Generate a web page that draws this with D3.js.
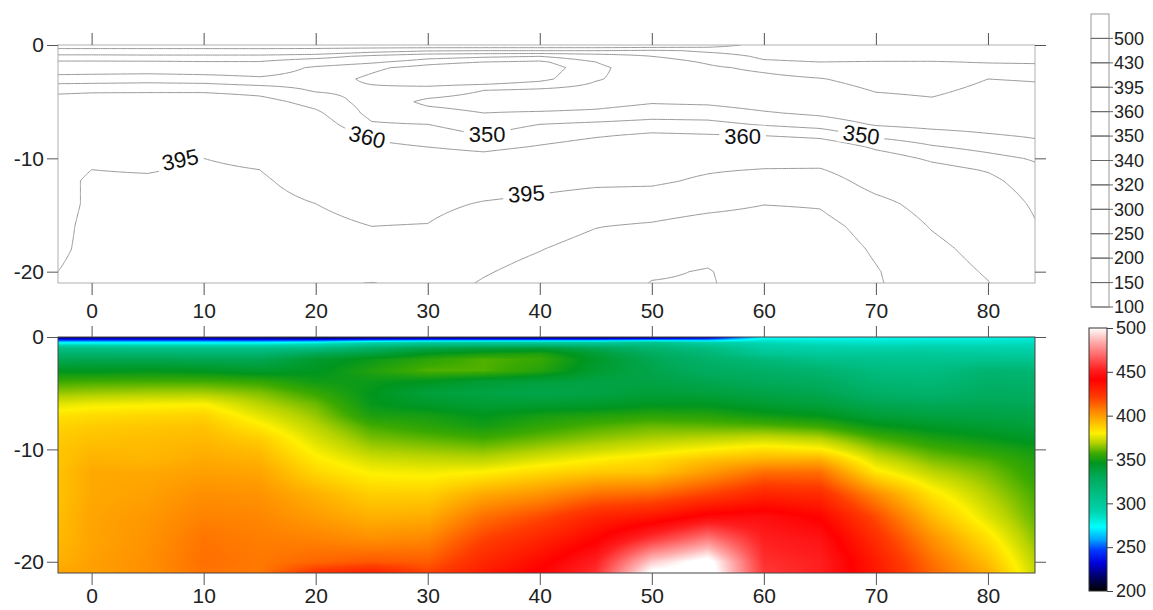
<!DOCTYPE html>
<html>
<head>
<meta charset="utf-8">
<script src="https://cdn.jsdelivr.net/npm/d3@7"></script>
<style>
  body { margin: 0; background: #fff; }
  svg { display: block; font-family: "Liberation Sans", Arial, sans-serif; }
  .axis .tick text { font-size: 21px; fill: #222; }
  .axis .tick line { stroke: #555; }
  .cbar .tick text { font-size: 18px; fill: #222; }
  .cbar .tick line { stroke: #444; }
  .legend text { font-size: 18px; fill: #222; }
  .clabel { font-size: 22px; fill: #111; }
</style>
</head>
<body>
<svg width="1153" height="610"></svg>
<script>
// profile grid: distance along line (m) and depth below surface (m)
const distance = [-3, 0, 5, 10, 15, 20, 25, 30, 35, 40, 45, 50, 55, 60, 65, 70, 75, 80, 84.2];
const depth = [0, 0.5, 1, 1.5, 2, 3, 4, 5, 6, 7, 8, 9, 10, 11, 12, 14, 16, 18, 20, 21];

// one list per distance column, values read top to bottom
const columns = [
  [212,272,310,322,332,345,357,366,376,383,387,389,390,390,391,391,392,393,395,398],
  [212,272,310,322,333,345,358,367,378,385,389,391,393,395,397,397,398,398,399,399],
  [212,272,308,322,333,346,358,368,379,386,390,392,393,394,397,399,401,402,403,403],
  [212,272,308,321,332,345,358,368,380,387,391,393,395,397,399,403,406,409,410,409],
  [210,272,308,321,332,342,356,364,370,376,382,388,392,395,398,402,405,407,408,408],
  [205,278,312,332,342,345,349,356,362,366,370,374,378,382,386,395,400,406,412,424],
  [205,290,325,338,348,352,348,346,347,351,358,363,368,374,379,388,395,403,415,431],
  [205,298,335,346,354,359,345,338,343,350,354,360,366,372,378,388,396,405,414,420],
  [205,300,338,350,359,359,340,336,340,346,350,357,364,371,380,397,410,420,428,432],
  [205,300,340,352,356,353,338,334,341,350,355,361,368,376,385,402,418,429,438,442],
  [205,300,332,340,343,341,336,336,342,352,359,365,372,381,389,410,429,440,452,456],
  [208,306,320,328,332,334,336,339,345,354,362,368,376,385,390,412,434,458,490,503],
  [220,295,312,318,323,328,333,338,345,353,361,370,380,392,400,420,444,474,505,508],
  [272,288,296,303,316,325,330,335,341,349,360,372,384,396,410,429,446,452,456,458],
  [275,285,293,300,308,321,328,333,338,346,357,369,381,397,410,427,440,448,452,452],
  [276,284,292,301,306,313,319,325,333,339,348,358,366,374,382,404,418,426,432,433],
  [277,285,293,301,305,312,317,322,331,337,344,351,358,364,370,383,393,403,410,412],
  [278,285,292,299,305,320,324,328,332,336,341,347,353,359,363,369,375,384,392,396],
  [280,286,292,298,305,319,323,327,331,335,339,343,349,352,354,358,361,365,370,372]
];

const contourLevels = [100, 150, 200, 250, 300, 320, 340, 350, 360, 395, 430, 500];
const legendLevels = [500, 430, 395, 360, 350, 340, 320, 300, 250, 200, 150, 100];
const colorStops = [200, 215, 232, 247, 258, 273, 280, 290, 305, 330, 346, 357, 369, 380, 392, 406, 421, 441, 452, 466, 485, 500];
const colorHex = ["#000000", "#000060", "#0000dc", "#003cff", "#00a0ff", "#00ffff", "#00eedd", "#00d4b0",
  "#00c490", "#00aa5a", "#00961e", "#3caa00", "#b4d200", "#fff000", "#ffbe00", "#ff8200", "#ff3c00",
  "#ff0000", "#ff1e1e", "#ff5a5a", "#ffb0b0", "#ffffff"];
const colorTicks = [500, 450, 400, 350, 300, 250, 200];
const xTicks = [0, 10, 20, 30, 40, 50, 60, 70, 80];
const yTicks = [0, -10, -20];

// contour labels: value, distance, depth, angle
const labelValue = [395, 360, 350, 395, 360, 350];
const labelDist = [7.9, 24.6, 35.3, 38.8, 58.1, 68.7];
const labelDepth = [10.1, 8.1, 7.9, 13.1, 8.0, 7.9];
const labelAngle = [-12, 14, 0, -4, 0, 8];

const svg = d3.select("svg");
svg.append("rect").attr("width", 1153).attr("height", 610).attr("fill", "#fff");

const x = d3.scaleLinear().domain([-3, 84.2]).range([58, 1035]);
const yTop = d3.scaleLinear().domain([0, -21]).range([45, 283]);
const yBot = d3.scaleLinear().domain([0, -21]).range([337, 573]);
const color = d3.scaleLinear().domain(colorStops).range(colorHex).clamp(true);

function valueAt(xv, dv) {
  const i = Math.max(0, Math.min(distance.length - 2, d3.bisectRight(distance, xv) - 1));
  const j = Math.max(0, Math.min(depth.length - 2, d3.bisectRight(depth, dv) - 1));
  const tx = Math.max(0, Math.min(1, (xv - distance[i]) / (distance[i + 1] - distance[i])));
  const ty = Math.max(0, Math.min(1, (dv - depth[j]) / (depth[j + 1] - depth[j])));
  const a = columns[i][j], b = columns[i + 1][j], c = columns[i][j + 1], d = columns[i + 1][j + 1];
  return (a * (1 - tx) + b * tx) * (1 - ty) + (c * (1 - tx) + d * tx) * ty;
}

// ---------- bottom panel: colour image ----------
const x0 = x.range()[0], x1 = x.range()[1];
const w = Math.round(x1 - x0), h = Math.round(yBot(-21) - yBot(0));
const canvas = document.createElement("canvas");
canvas.width = w; canvas.height = h;
const ctx = canvas.getContext("2d");
const img = ctx.createImageData(w, h);
for (let py = 0; py < h; py++) {
  const dv = -yBot.invert(yBot(0) + py + 0.5);
  for (let px = 0; px < w; px++) {
    const c = d3.rgb(color(valueAt(x.invert(x0 + px + 0.5), dv)));
    const k = (py * w + px) * 4;
    img.data[k] = c.r; img.data[k + 1] = c.g; img.data[k + 2] = c.b; img.data[k + 3] = 255;
  }
}
ctx.putImageData(img, 0, 0);
svg.append("image")
  .attr("x", x0).attr("y", yBot(0))
  .attr("width", w).attr("height", h)
  .attr("preserveAspectRatio", "none")
  .attr("href", canvas.toDataURL());

// ---------- top panel: contour lines ----------
const step = 0.2, dstep = 0.1;
const nx = Math.round(87.2 / step) + 1, ny = Math.round(21 / dstep) + 1;
const samples = new Array(nx * ny);
for (let j = 0; j < ny; j++)
  for (let i = 0; i < nx; i++)
    samples[j * nx + i] = valueAt(-3 + i * step, j * dstep);

const contours = d3.contours().size([nx, ny]).thresholds(contourLevels)(samples);
const proj = d3.geoTransform({
  point: function (gx, gy) {
    this.stream.point(x(-3 + (gx - 0.5) * step), yTop(-(gy - 0.5) * dstep));
  }
});

svg.append("clipPath").attr("id", "topclip")
  .append("rect").attr("x", 58).attr("y", 45).attr("width", 977).attr("height", 238);

svg.append("g")
  .attr("clip-path", "url(#topclip)")
  .selectAll("path")
  .data(contours)
  .join("path")
  .attr("d", d3.geoPath(proj))
  .attr("fill", "none")
  .attr("stroke", "#999")
  .attr("stroke-width", 1);

// contour labels with a white gap
labelValue.forEach((v, k) => {
  const g = svg.append("g")
    .attr("transform", `translate(${x(labelDist[k])},${yTop(-labelDepth[k])}) rotate(${labelAngle[k]})`);
  const r = g.append("rect").attr("fill", "#fff");
  const t = g.append("text").attr("class", "clabel")
    .attr("text-anchor", "middle").attr("dy", "0.36em").text(v);
  const tw = t.node().getComputedTextLength();
  r.attr("x", -tw / 2 - 5).attr("y", -10).attr("width", tw + 10).attr("height", 20);
});

// ---------- frames & axes ----------
svg.append("rect").attr("x", 58).attr("y", 45).attr("width", 977).attr("height", 238)
  .attr("fill", "none").attr("stroke", "#b0b0b0");
svg.append("rect").attr("x", 58).attr("y", 337).attr("width", 977).attr("height", 236)
  .attr("fill", "none").attr("stroke", "#444");

function addAxis(axis, tx, ty) {
  svg.append("g").attr("class", "axis")
    .attr("transform", `translate(${tx},${ty})`)
    .call(axis)
    .call(g => g.select(".domain").remove());
}
const fmt = d => String(d);

addAxis(d3.axisTop(x).tickValues(xTicks).tickSize(12).tickFormat(""), 0, 45);
addAxis(d3.axisBottom(x).tickValues(xTicks).tickSize(12).tickPadding(8).tickFormat(fmt), 0, 283);
addAxis(d3.axisLeft(yTop).tickValues(yTicks).tickSize(11).tickPadding(3).tickFormat(fmt), 58, 0);
addAxis(d3.axisRight(yTop).tickValues(yTicks).tickSize(11).tickFormat(""), 1035, 0);

addAxis(d3.axisTop(x).tickValues(xTicks).tickSize(11).tickFormat(""), 0, 337);
addAxis(d3.axisBottom(x).tickValues(xTicks).tickSize(12).tickPadding(3).tickFormat(fmt), 0, 573);
addAxis(d3.axisLeft(yBot).tickValues(yTicks).tickSize(11).tickPadding(3).tickFormat(fmt), 58, 0);
addAxis(d3.axisRight(yBot).tickValues(yTicks).tickSize(11).tickFormat(""), 1035, 0);

// ---------- contour legend ----------
const ly = d3.scaleLinear().domain([0, legendLevels.length]).range([14, 307]);
const legend = svg.append("g").attr("class", "legend");
legendLevels.forEach((v, k) => {
  legend.append("rect")
    .attr("x", 1091).attr("y", ly(k))
    .attr("width", 18).attr("height", ly(k + 1) - ly(k))
    .attr("fill", "#fff").attr("stroke", "#999");
});
legendLevels.forEach((v, k) => {
  legend.append("line")
    .attr("x1", 1091).attr("x2", 1113)
    .attr("y1", ly(k + 1)).attr("y2", ly(k + 1))
    .attr("stroke", "#666");
  legend.append("text")
    .attr("x", 1114).attr("y", ly(k + 1)).attr("dy", "0.35em")
    .text(v);
});

// ---------- colour bar ----------
const cb = d3.scaleLinear().domain([200, 500]).range([591, 328]);
const grad = svg.append("defs").append("linearGradient")
  .attr("id", "cbgrad").attr("x1", 0).attr("x2", 0).attr("y1", 1).attr("y2", 0);
grad.selectAll("stop")
  .data(colorStops)
  .join("stop")
  .attr("offset", d => (d - 200) / 300)
  .attr("stop-color", d => color(d));
svg.append("rect")
  .attr("x", 1089).attr("y", cb(500))
  .attr("width", 18).attr("height", cb(200) - cb(500))
  .attr("fill", "url(#cbgrad)").attr("stroke", "#333");
svg.append("g").attr("class", "cbar")
  .attr("transform", "translate(1107,0)")
  .call(d3.axisRight(cb).tickValues(colorTicks).tickSize(6).tickPadding(3))
  .call(g => g.select(".domain").remove());
</script>
</body>
</html>
